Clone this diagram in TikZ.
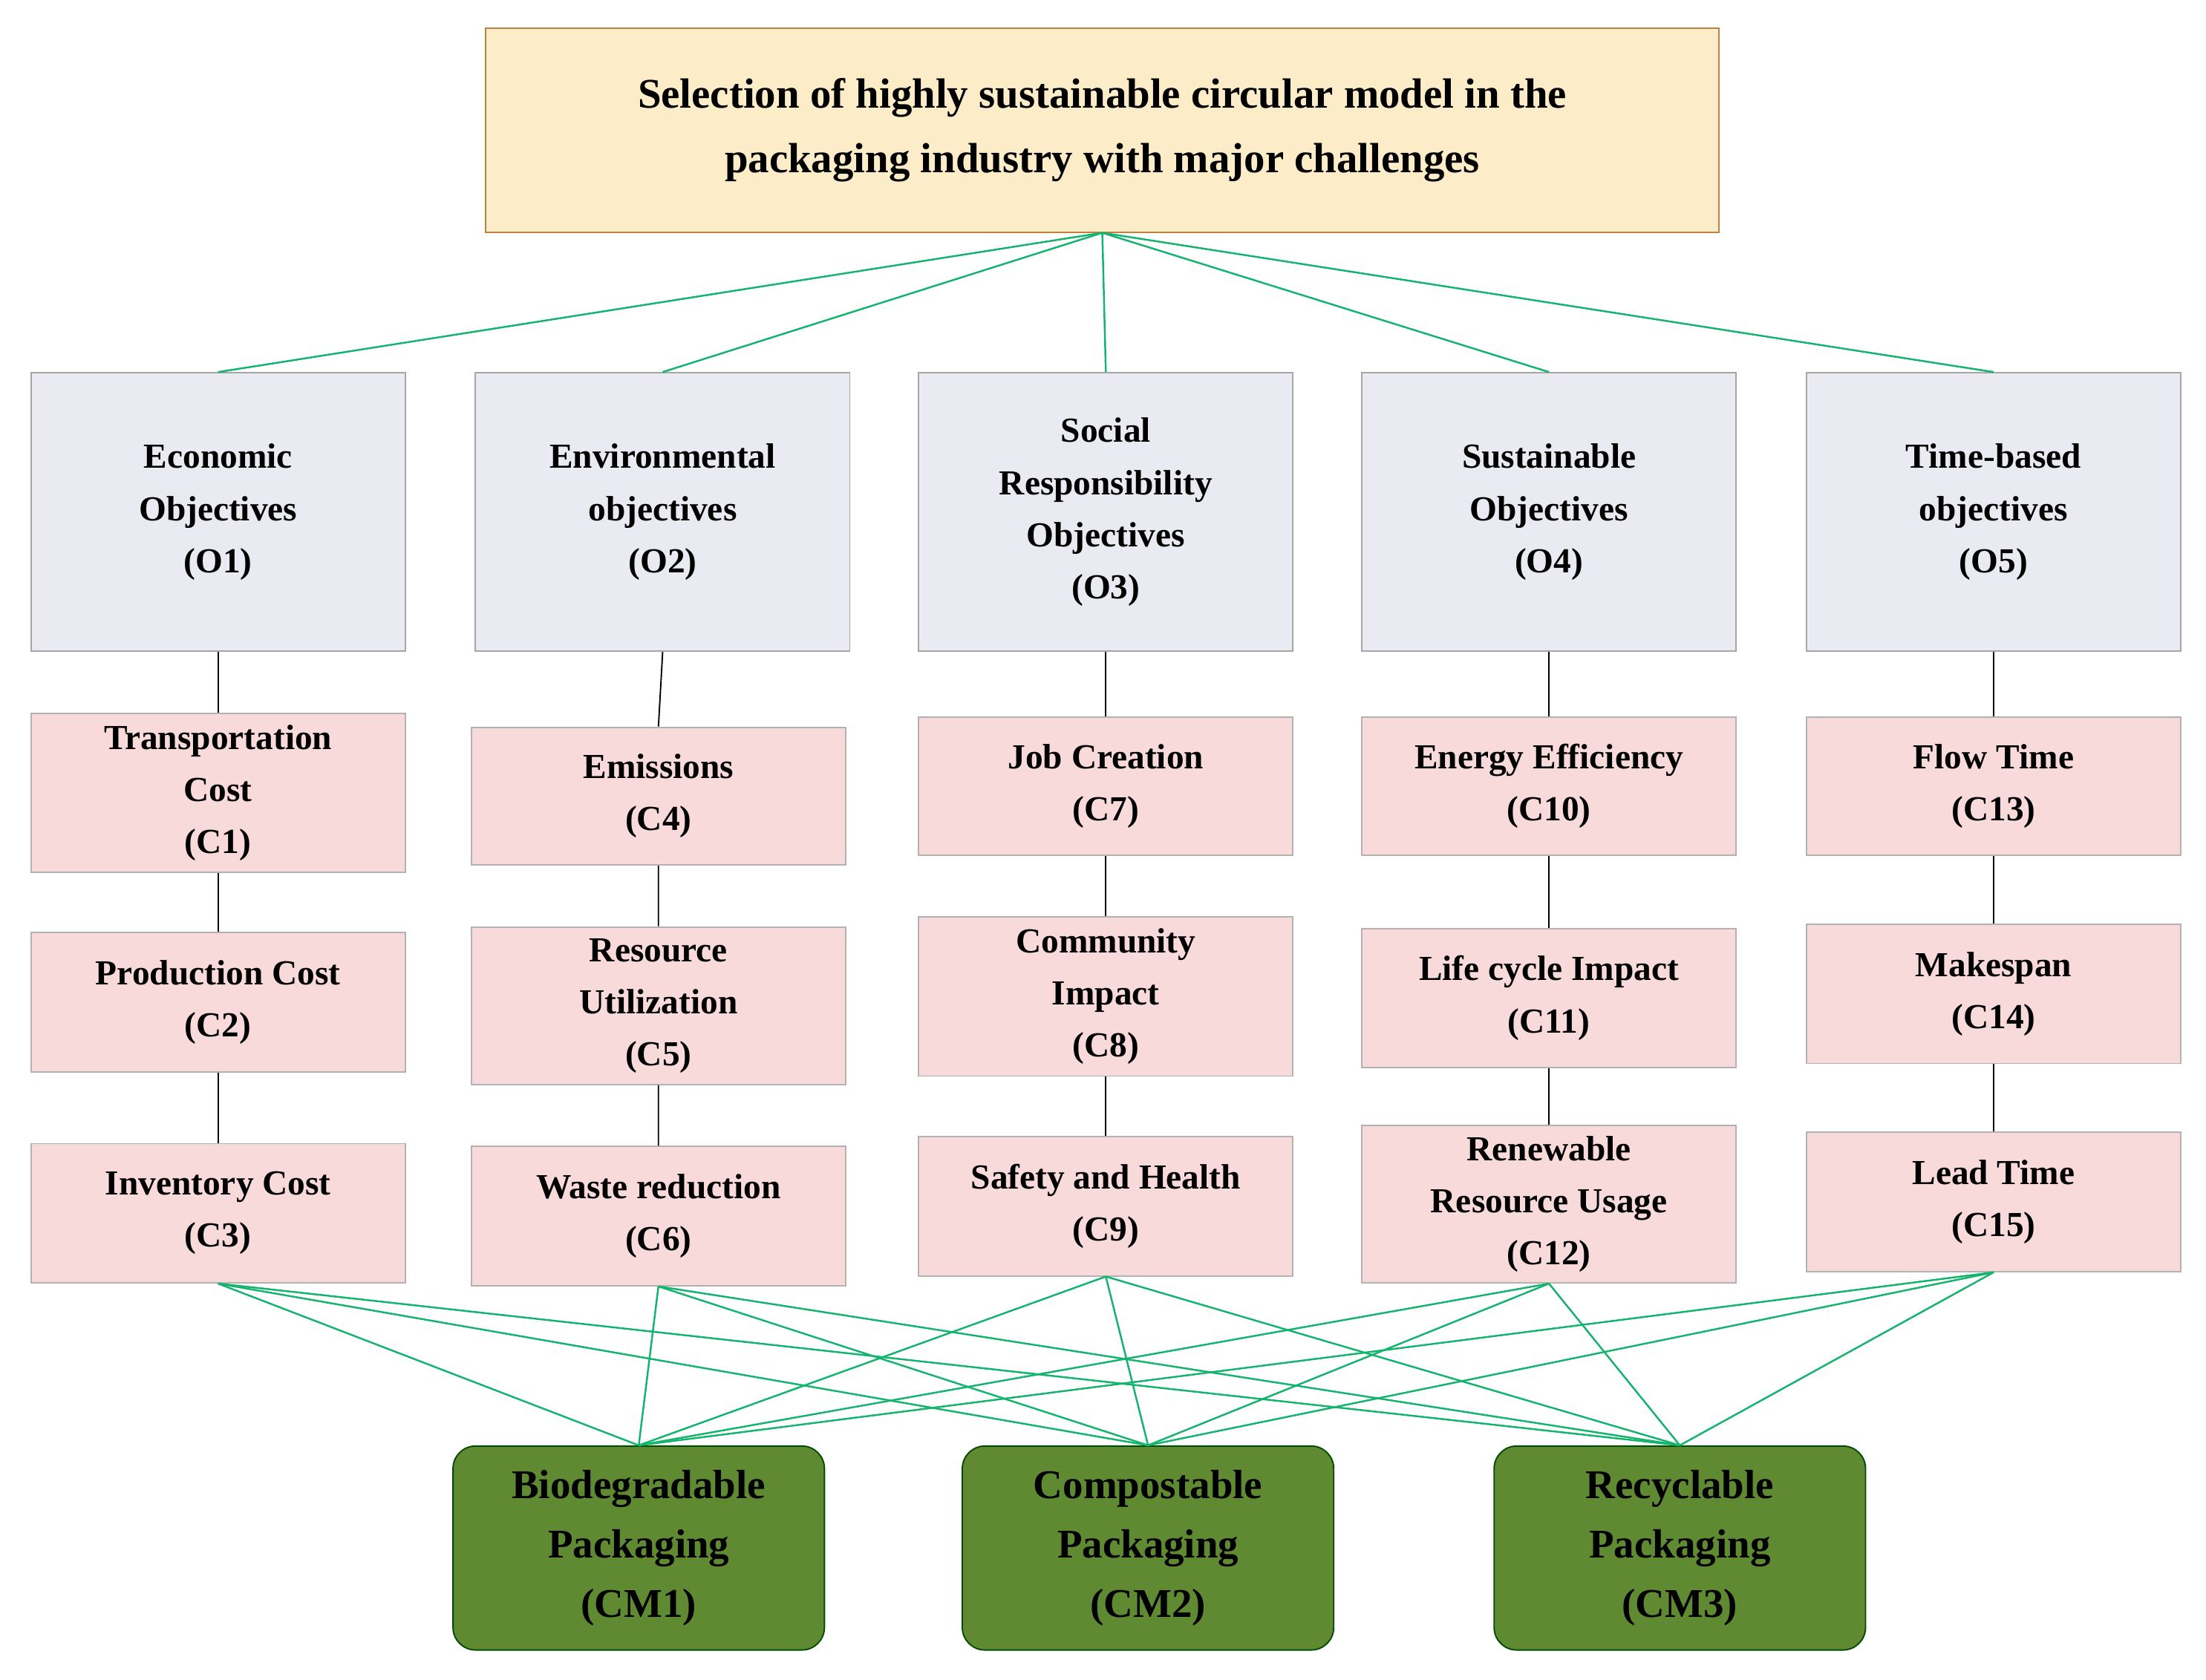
\documentclass[tikz,border=0pt]{standalone}
\usepackage{fontspec}
\setmainfont{Liberation Serif}
\begin{document}
\begin{tikzpicture}[x=1pt,y=-1pt,
 box/.style={draw=#1,line width=1pt,inner sep=0pt,align=center,font=\fontsize{25}{37}\selectfont\bfseries},
 obj/.style={box=gray!70,fill={rgb,255:red,234;green,234;blue,242}},
 crit/.style={box=gray!60,fill={rgb,255:red,248;green,218;blue,218}},
 alt/.style={box=black!70!green,rounded corners=16pt,fill={rgb,255:red,96;green,138;blue,50},font=\fontsize{29}{42}\selectfont\bfseries},
 gl/.style={draw={rgb,255:red,20;green,180;blue,110},line width=1.3pt},
 bl/.style={draw=black,line width=1pt}]
\useasboundingbox (0,0) rectangle (1568,1194);
\newcommand{\bx}[7]{\node[#1,minimum width=#4-#3,minimum height=#6-#5] (#2) at ({(#3+#4)/2},{(#5+#6)/2}) {#7};}
\bx{box=gray!50!orange,fill={rgb,255:red,252;green,236;blue,200},font=\fontsize{30}{46}\selectfont\bfseries}{T}{345}{1222}{20}{165}{Selection of highly sustainable circular model in the\\packaging industry with major challenges}
\bx{obj}{O1}{22}{288}{265}{463}{Economic\\Objectives\\(O1)}
\bx{obj}{O2}{338}{604}{265}{463}{Environmental\\objectives\\(O2)}
\bx{obj}{O3}{653}{919}{265}{463}{Social\\Responsibility\\Objectives\\(O3)}
\bx{obj}{O4}{968}{1234}{265}{463}{Sustainable\\Objectives\\(O4)}
\bx{obj}{O5}{1284}{1550}{265}{463}{Time-based\\objectives\\(O5)}
\bx{crit}{C1}{22}{288}{507}{620}{Transportation\\Cost\\(C1)}
\bx{crit}{C2}{22}{288}{663}{762}{Production Cost\\(C2)}
\bx{crit}{C3}{22}{288}{813}{912}{Inventory Cost\\(C3)}
\bx{crit}{C4}{335}{601}{517}{615}{Emissions\\(C4)}
\bx{crit}{C5}{335}{601}{659}{771}{Resource\\Utilization\\(C5)}
\bx{crit}{C6}{335}{601}{815}{914}{Waste reduction\\(C6)}
\bx{crit}{C7}{653}{919}{510}{608}{Job Creation\\(C7)}
\bx{crit}{C8}{653}{919}{652}{765}{Community\\Impact\\(C8)}
\bx{crit}{C9}{653}{919}{808}{907}{Safety and Health\\(C9)}
\bx{crit}{C10}{968}{1234}{510}{608}{Energy Efficiency\\(C10)}
\bx{crit}{C11}{968}{1234}{660}{759}{Life cycle Impact\\(C11)}
\bx{crit}{C12}{968}{1234}{800}{912}{Renewable\\Resource Usage\\(C12)}
\bx{crit}{C13}{1284}{1550}{510}{608}{Flow Time\\(C13)}
\bx{crit}{C14}{1284}{1550}{657}{756}{Makespan\\(C14)}
\bx{crit}{C15}{1284}{1550}{805}{904}{Lead Time\\(C15)}
\bx{alt}{A1}{322}{586}{1028}{1173}{Biodegradable\\Packaging\\(CM1)}
\bx{alt}{A2}{684}{948}{1028}{1173}{Compostable\\Packaging\\(CM2)}
\bx{alt}{A3}{1062}{1326}{1028}{1173}{Recyclable\\Packaging\\(CM3)}
\foreach \o in {O1,O2,O3,O4,O5} \draw[gl] (T.south) -- (\o.north);
\foreach \a/\b/\c/\d in {O1/C1/C2/C3,O2/C4/C5/C6,O3/C7/C8/C9,O4/C10/C11/C12,O5/C13/C14/C15}
 \draw[bl] (\a.south) -- (\b.north) (\b.south) -- (\c.north) (\c.south) -- (\d.north);
\foreach \c in {C3,C6,C9,C12,C15} \foreach \a in {A1,A2,A3} \draw[gl] (\c.south) -- (\a.north);
\end{tikzpicture}
\end{document}
